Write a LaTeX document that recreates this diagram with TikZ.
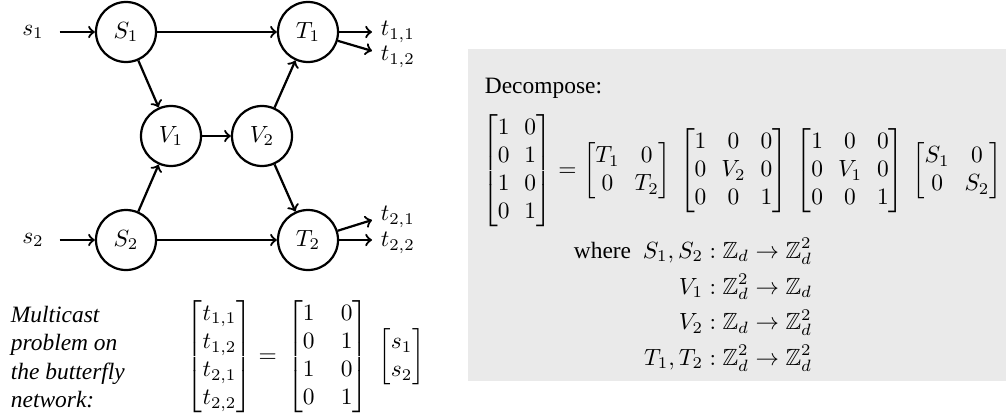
\documentclass[tikz,border=0pt]{standalone}
\usepackage{amsmath}
\usepackage{amssymb}
\usepackage[no-math]{fontspec}
\setmainfont{Liberation Serif}
\usepackage{tikz}
\definecolor{boxgray}{RGB}{234,234,234}

\begin{document}
\begin{tikzpicture}[x=0.015cm, y=-0.015cm, line width=0.95pt,
    proc/.style={draw, circle, minimum size=0.9cm, inner sep=0pt},
    feed/.style={->, shorten <=3pt}]
      \useasboundingbox (0,0) rectangle (1006,419);
      \fill[boxgray] (468,49) rectangle (1006,381);
      % butterfly network
      \node (s1) at (33,32) {$s_1$};
      \node (s2) at (33,240) {$s_2$};
      \node[proc] (S1) at (126,32) {$S_1$};
      \node[proc] (S2) at (126,240) {$S_2$};
      \node[proc] (V1) at (171,136) {$V_1$};
      \node[proc] (V2) at (262,136) {$V_2$};
      \node[proc] (T1) at (308,32) {$T_1$};
      \node[proc] (T2) at (308,240) {$T_2$};
      \node[anchor=west] (t11) at (372,32) {$t_{1,1}$};
      \node[anchor=west] (t12) at (372,57) {$t_{1,2}$};
      \node[anchor=west] (t21) at (372,217) {$t_{2,1}$};
      \node[anchor=west] (t22) at (372,243) {$t_{2,2}$};
      \draw[feed] (s1) -- (S1);
      \draw[feed] (s2) -- (S2);
      \draw[->] (S1) -- (T1);
      \draw[->] (S2) -- (T2);
      \draw[->] (S1) -- (V1);
      \draw[->] (S2) -- (V1);
      \draw[->] (V1) -- (V2);
      \draw[->] (V2) -- (T1);
      \draw[->] (V2) -- (T2);
      \draw[->] (T1) -- (t11.west |- T1);
      \draw[->] (T1) -- ([yshift=2.6pt]t12.west);
      \draw[->] (T2) -- ([yshift=-1.3pt]t21.west);
      \draw[->] (T2) -- (t22.west |- T2);
      % problem statement
      \node[anchor=west, align=left, font=\itshape] (caption) at (2,357)
        {Multicast\\problem on\\the butterfly\\network:};
      \node[anchor=west] (multeq) at (178,357)
        {\arraycolsep=5.6pt
         $\begin{bmatrix} t_{1,1}\\ t_{1,2}\\ t_{2,1}\\ t_{2,2} \end{bmatrix}
          = \,\begin{bmatrix} 1 & 0\\ 0 & 1\\ 1 & 0\\ 0 & 1 \end{bmatrix}\;
          \begin{bmatrix} s_1\\ s_2 \end{bmatrix}$};
      % decomposition
      \node[anchor=west] (decomp) at (476,88) {Decompose:};
      \node (decompeq) at (742,171)
        {\arraycolsep=3.2pt
         $\begin{bmatrix} 1 & 0\\ 0 & 1\\ 1 & 0\\ 0 & 1 \end{bmatrix}
          = \begin{bmatrix} T_1 & 0\\ 0 & T_2 \end{bmatrix}\,
          \begin{bmatrix} 1 & 0 & 0\\ 0 & V_2 & 0\\ 0 & 0 & 1 \end{bmatrix}\,
          \begin{bmatrix} 1 & 0 & 0\\ 0 & V_1 & 0\\ 0 & 0 & 1 \end{bmatrix}\,
          \begin{bmatrix} S_1 & 0\\ 0 & S_2 \end{bmatrix}$};
      \node (maps) at (693,306)
        {\jot=2pt
         $\begin{aligned}
          \text{where}\ \ S_1, S_2 &: \mathbb{Z}_d \to \mathbb{Z}_d^2\\
          V_1 &: \mathbb{Z}_d^2 \to \mathbb{Z}_d\\
          V_2 &: \mathbb{Z}_d \to \mathbb{Z}_d^2\\
          T_1, T_2 &: \mathbb{Z}_d^2 \to \mathbb{Z}_d^2
        \end{aligned}$};
    \end{tikzpicture}
\end{document}
